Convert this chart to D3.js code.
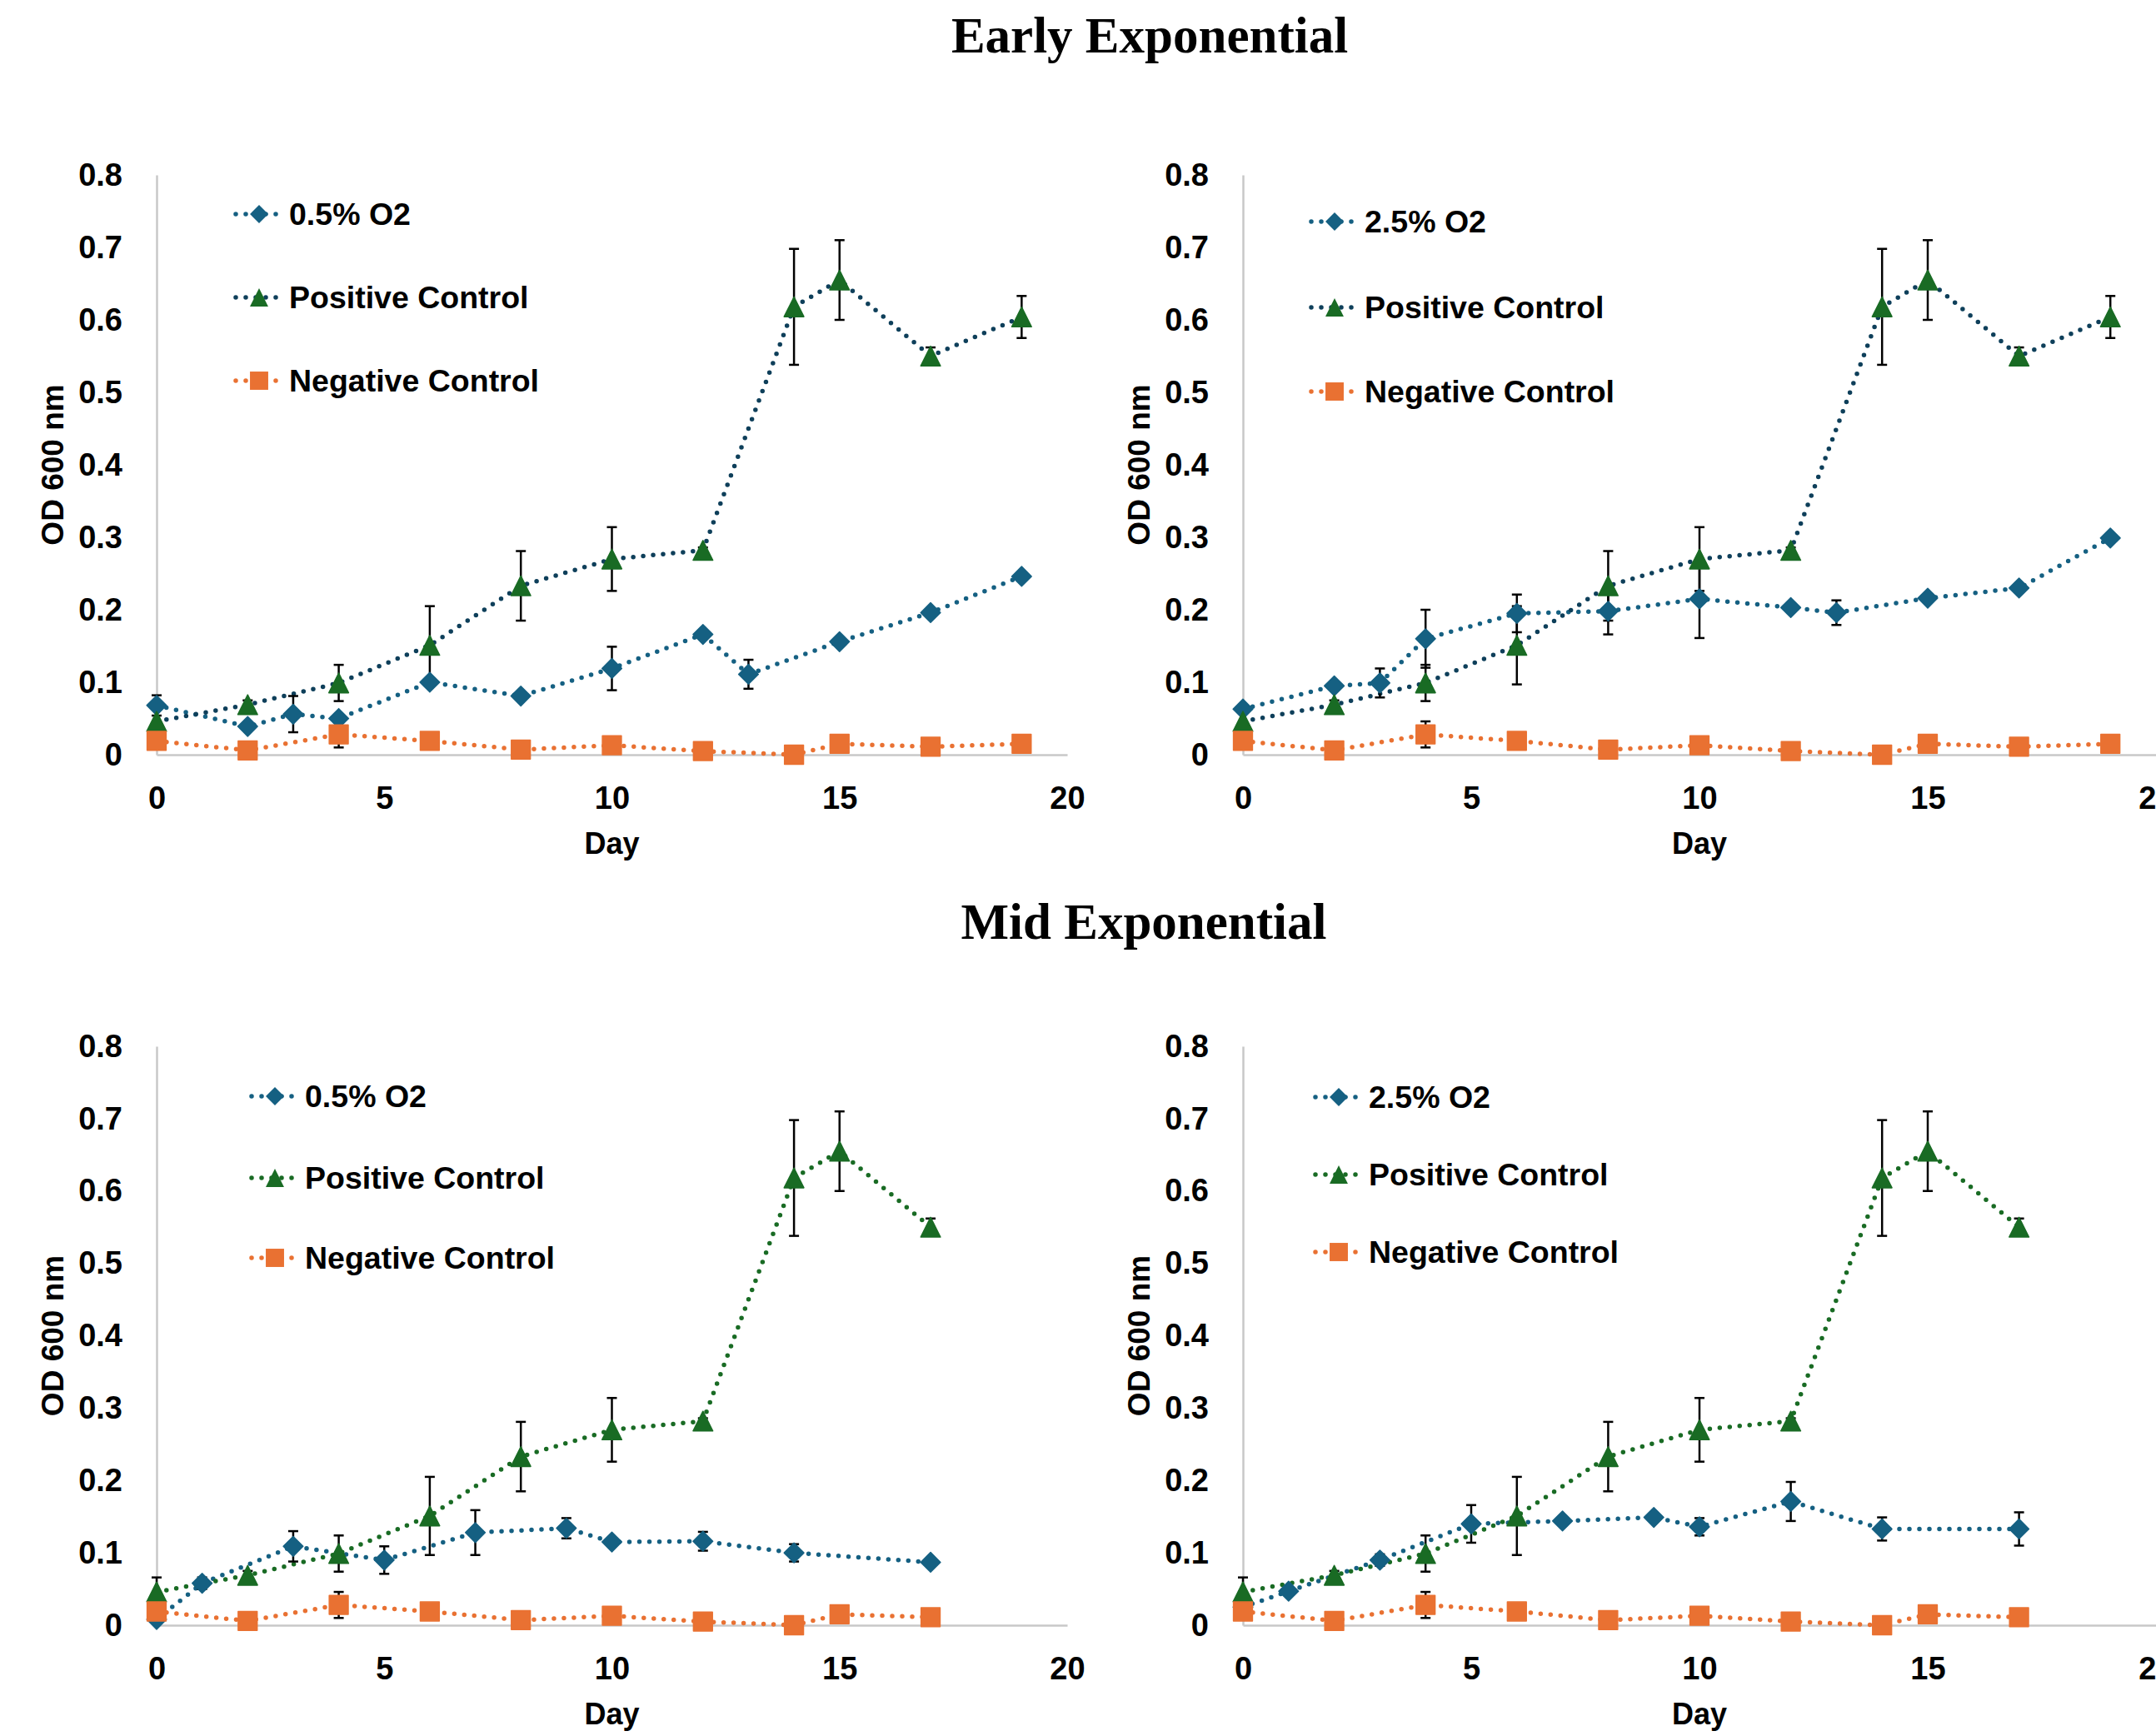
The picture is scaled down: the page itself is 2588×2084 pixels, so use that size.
<!DOCTYPE html>
<html lang="en">
<head>
<meta charset="UTF-8">
<title>OD 600 growth curves</title>
<style>
  body { margin: 0; background: #fff; }
  svg { display: block; }
  .tick text, .lbl { font-family: "Liberation Sans", Arial, sans-serif; font-weight: bold; fill: #000; }
  .title { font-family: "Liberation Serif", "Times New Roman", serif; font-weight: bold; font-size: 61px; }
</style>
</head>
<body>
<div id="chart"></div>
<script src="https://cdn.jsdelivr.net/npm/d3@7/dist/d3.min.js"></script>
<script>
const W = 2588, H = 2084;

// axis ticks
const xTicks = [0, 5, 10, 15, 20];
const yTicks = [0, 0.1, 0.2, 0.3, 0.4, 0.5, 0.6, 0.7, 0.8];

// Early exponential, 0.5% O2
const earlyDays05 = [0, 2, 3, 4, 6, 8, 10, 12, 13, 15, 17, 19];
const early05 = [0.068, 0.039, 0.056, 0.050, 0.100, 0.081, 0.119, 0.166, 0.111, 0.156, 0.196, 0.246];
const early05Err = [0.014, 0.004, 0.025, 0.004, 0.004, 0.004, 0.030, 0.004, 0.020, 0.004, 0.004, 0.004];

// Early exponential, 2.5% O2
const earlyDays25 = [0, 2, 3, 4, 6, 8, 10, 12, 13, 15, 17, 19];
const early25 = [0.063, 0.095, 0.099, 0.160, 0.195, 0.198, 0.215, 0.203, 0.196, 0.216, 0.230, 0.299];
const early25Err = [0.004, 0.004, 0.020, 0.040, 0.026, 0.032, 0.054, 0.004, 0.017, 0.004, 0.004, 0.004];

// Mid exponential, 0.5% O2
const midDays05 = [0, 1, 3, 5, 7, 9, 10, 12, 14, 17];
const mid05 = [0.008, 0.058, 0.109, 0.090, 0.128, 0.134, 0.115, 0.116, 0.100, 0.087];
const mid05Err = [0.004, 0.008, 0.021, 0.019, 0.031, 0.014, 0.004, 0.013, 0.012, 0.004];

// Mid exponential, 2.5% O2
const midDays25 = [0, 1, 3, 5, 7, 9, 10, 12, 14, 17];
const mid25 = [0.025, 0.047, 0.090, 0.140, 0.144, 0.149, 0.136, 0.171, 0.133, 0.133];
const mid25Err = [0.004, 0.004, 0.008, 0.026, 0.004, 0.004, 0.012, 0.027, 0.016, 0.023];

// Positive control
const posDaysEarly = [0, 2, 4, 6, 8, 10, 12, 14, 15, 17, 19];
const posEarly = [0.046, 0.069, 0.099, 0.151, 0.233, 0.270, 0.282, 0.618, 0.655, 0.550, 0.604];
const posEarlyErr = [0.020, 0.006, 0.025, 0.054, 0.048, 0.044, 0.004, 0.080, 0.055, 0.012, 0.029];
const posDaysMid = [0, 2, 4, 6, 8, 10, 12, 14, 15, 17];
const posMid = [0.046, 0.069, 0.099, 0.151, 0.233, 0.270, 0.282, 0.618, 0.655, 0.550];
const posMidErr = [0.020, 0.006, 0.025, 0.054, 0.048, 0.044, 0.004, 0.080, 0.055, 0.012];

// Negative control
const negDaysEarly = [0, 2, 4, 6, 8, 10, 12, 14, 15, 17, 19];
const negEarly = [0.019, 0.006, 0.028, 0.019, 0.007, 0.013, 0.005, 0.000, 0.015, 0.011, 0.015];
const negEarlyErr = [0.003, 0.003, 0.018, 0.003, 0.003, 0.003, 0.003, 0.003, 0.003, 0.003, 0.012];
const negDaysMid = [0, 2, 4, 6, 8, 10, 12, 14, 15, 17];
const negMid = [0.019, 0.006, 0.028, 0.019, 0.007, 0.013, 0.005, 0.000, 0.015, 0.011];
const negMidErr = [0.003, 0.003, 0.018, 0.003, 0.003, 0.003, 0.003, 0.003, 0.003, 0.003];

const BLUE = "#156082", GREEN = "#196B24", ORANGE = "#E97132", NAVY = "#0E3F5A";

// marker shapes (Excel-like: square diamond, isoceles triangle)
const diamond = { draw(ctx, size) { const r = Math.sqrt(size) / 2;
  ctx.moveTo(0, -r); ctx.lineTo(r, 0); ctx.lineTo(0, r); ctx.lineTo(-r, 0); ctx.closePath(); } };
const triangle = { draw(ctx, size) { const r = Math.sqrt(size) / 2;
  ctx.moveTo(0, -r); ctx.lineTo(r, r); ctx.lineTo(-r, r); ctx.closePath(); } };

const zip = (days, vals, errs) => days.map((d, i) => ({day: d, od: vals[i], err: errs[i]}));

const svg = d3.select("#chart").append("svg").attr("width", W).attr("height", H);

svg.append("text").attr("class", "title").attr("x", 1380).attr("y", 63)
  .attr("text-anchor", "middle").text("Early Exponential");
svg.append("text").attr("class", "title").attr("x", 1373).attr("y", 1127)
  .attr("text-anchor", "middle").text("Mid Exponential");

const panels = [
  { x0: 188, x1: 1281, y0: 906, y1: 210, ttlX: 63, leg: [347, [257, 357, 457]], posLine: NAVY,
    series: [["0.5% O2", zip(earlyDays05, early05, early05Err)], ["Positive Control", zip(posDaysEarly, posEarly, posEarlyErr)], ["Negative Control", zip(negDaysEarly, negEarly, negEarlyErr)]] },
  { x0: 1492, x1: 2588, y0: 906, y1: 210, ttlX: 1367, leg: [1638, [266, 369, 470]], posLine: NAVY,
    series: [["2.5% O2", zip(earlyDays25, early25, early25Err)], ["Positive Control", zip(posDaysEarly, posEarly, posEarlyErr)], ["Negative Control", zip(negDaysEarly, negEarly, negEarlyErr)]] },
  { x0: 188, x1: 1281, y0: 1951, y1: 1256, ttlX: 63, leg: [366, [1316, 1414, 1510]], posLine: GREEN,
    series: [["0.5% O2", zip(midDays05, mid05, mid05Err)], ["Positive Control", zip(posDaysMid, posMid, posMidErr)], ["Negative Control", zip(negDaysMid, negMid, negMidErr)]] },
  { x0: 1492, x1: 2588, y0: 1951, y1: 1256, ttlX: 1367, leg: [1643, [1317, 1410, 1503]], posLine: GREEN,
    series: [["2.5% O2", zip(midDays25, mid25, mid25Err)], ["Positive Control", zip(posDaysMid, posMid, posMidErr)], ["Negative Control", zip(negDaysMid, negMid, negMidErr)]] }
];

panels.forEach(p => {
  const x = d3.scaleLinear().domain([0, 20]).range([p.x0, p.x1]);
  const y = d3.scaleLinear().domain([0, 0.8]).range([p.y0, p.y1]);
  const g = svg.append("g");

  const xAxis = g.append("g").attr("transform", `translate(0,${p.y0})`)
    .call(d3.axisBottom(x).tickValues(xTicks).tickSize(0).tickSizeOuter(0).tickPadding(38));
  const yAxis = g.append("g").attr("transform", `translate(${p.x0},0)`)
    .call(d3.axisLeft(y).tickValues(yTicks).tickSize(0).tickSizeOuter(0).tickPadding(41)
      .tickFormat(d => d === 0 ? "0" : d.toFixed(1)));
  [xAxis, yAxis].forEach(a => {
    a.select(".domain").attr("stroke", "#C8C8C8").attr("stroke-width", 2.5);
    a.selectAll(".tick text").attr("font-size", 38).attr("font-family", null);
  });

  g.append("text").attr("class", "lbl").attr("font-size", 36)
    .attr("x", (p.x0 + Math.min(p.x1, W)) / 2).attr("y", p.y0 + 119)
    .attr("text-anchor", "middle").text("Day");
  g.append("text").attr("class", "lbl").attr("font-size", 37)
    .attr("transform", `translate(${p.ttlX},${(p.y0 + p.y1) / 2}) rotate(-90)`)
    .attr("text-anchor", "middle").attr("dominant-baseline", "central").text("OD 600 nm");

  const styles = [
    { line: BLUE, fill: BLUE, type: diamond },
    { line: p.posLine, fill: GREEN, type: triangle },
    { line: ORANGE, fill: ORANGE, type: d3.symbolSquare }
  ];
  const line = d3.line().x(d => x(d.day)).y(d => y(d.od));
  const dotted = sel => sel.attr("fill", "none").attr("stroke-width", 5.5)
    .attr("stroke-linecap", "round").attr("stroke-dasharray", "0 12");

  p.series.forEach(([name, data], i) => {
    g.append("path").datum(data).attr("d", line).attr("stroke", styles[i].line).call(dotted);
  });
  p.series.forEach(([name, data], i) => {
    const eb = g.append("g").attr("stroke", "#000").attr("stroke-width", 2.5);
    eb.selectAll("line.v").data(data).join("line").attr("class", "v")
      .attr("x1", d => x(d.day)).attr("x2", d => x(d.day))
      .attr("y1", d => y(d.od - d.err)).attr("y2", d => y(d.od + d.err));
    eb.selectAll("line.c").data(data.flatMap(d => [[d.day, d.od - d.err], [d.day, d.od + d.err]]))
      .join("line").attr("class", "c")
      .attr("x1", d => x(d[0]) - 6).attr("x2", d => x(d[0]) + 6)
      .attr("y1", d => y(d[1])).attr("y2", d => y(d[1]));
  });
  p.series.forEach(([name, data], i) => {
    const sym = d3.symbol().type(styles[i].type).size(styles[i].type === d3.symbolSquare ? 520 : 560);
    g.append("g").selectAll("path").data(data).join("path")
      .attr("transform", d => `translate(${x(d.day)},${y(d.od)})`)
      .attr("d", sym).attr("fill", styles[i].fill)
      .attr("stroke", styles[i].fill).attr("stroke-width", 1.5).attr("stroke-linejoin", "round");
  });

  // legend
  const [lx, rows] = p.leg;
  p.series.forEach(([name], i) => {
    const ly = rows[i];
    g.append("line").attr("x1", lx - 64).attr("x2", lx - 12).attr("y1", ly).attr("y2", ly)
      .attr("stroke", styles[i].line).call(dotted);
    g.append("path").attr("transform", `translate(${lx - 36},${ly})`)
      .attr("d", d3.symbol().type(styles[i].type).size(480)).attr("fill", styles[i].fill);
    g.append("text").attr("class", "lbl").attr("font-size", 37.5)
      .attr("x", lx).attr("y", ly).attr("dominant-baseline", "central").text(name);
  });
});
</script>
</body>
</html>
